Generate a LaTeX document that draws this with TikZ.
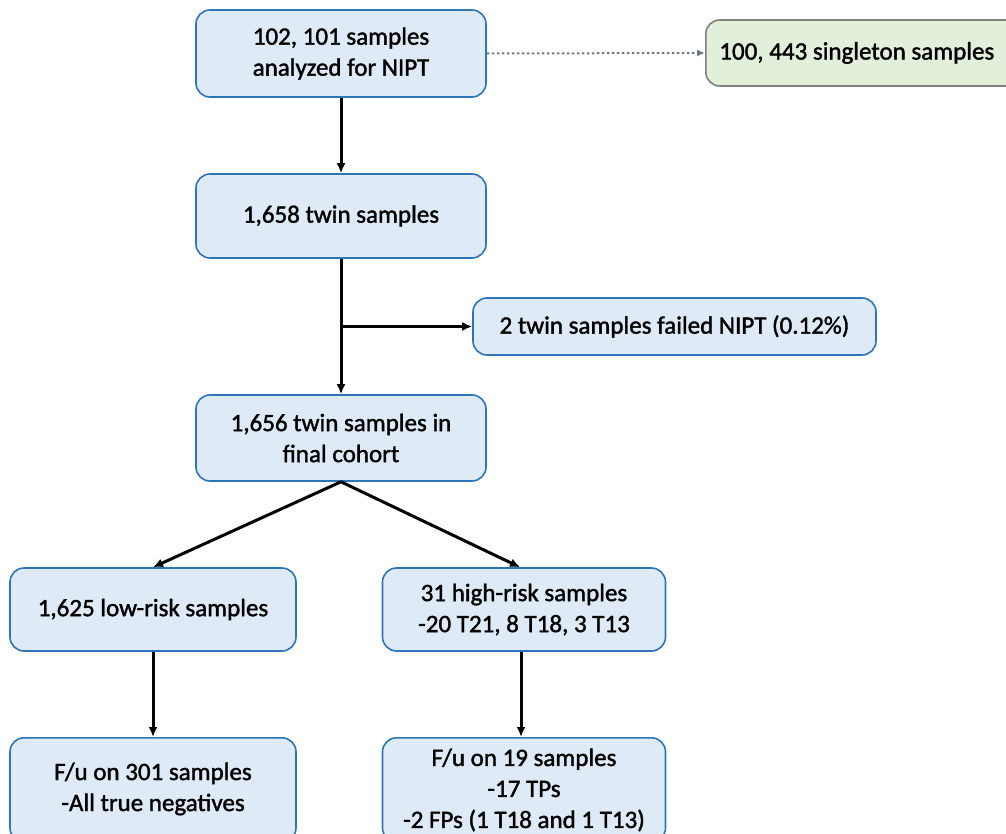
\documentclass[tikz,border=0pt]{standalone}
\usepackage{fontspec}
\setmainfont{Carlito}[FakeBold=1.5]
\usetikzlibrary{arrows.meta}
\definecolor{boxfill}{RGB}{222,235,247}
\definecolor{boxline}{RGB}{46,117,182}
\definecolor{greenfill}{RGB}{226,239,218}
\definecolor{greenline}{RGB}{128,128,128}
\definecolor{dotline}{RGB}{110,120,130}
\tikzset{
  txt/.style={align=center, font=\fontsize{25}{31}\selectfont},
  box/.style={draw=boxline, line width=1.6pt, fill=boxfill, rounded corners=14pt,
    inner sep=0pt, txt},
  gbox/.style={box, draw=greenline, fill=greenfill},
  arr/.style={-{Latex[length=10pt,width=9pt]}, line width=3pt, black},
  darr/.style={-{Latex[length=8pt,width=7pt]}, line width=2pt, dotline, dash pattern=on 2.5pt off 2.5pt},
}
\begin{document}
\begin{tikzpicture}[x=1pt,y=-1pt]
\useasboundingbox (0,0) rectangle (1006,834);
\clip (0,0) rectangle (1006,834);
\node[box, minimum width=290pt, minimum height=87pt] (a) at (341,53.5) {102, 101 samples\\analyzed for NIPT};
\node[gbox, minimum width=320pt, minimum height=66pt, anchor=west] (s) at (705,53) {\hspace*{-18pt}100, 443 singleton samples};
\node[box, minimum width=290pt, minimum height=84pt] (b) at (341,216) {1,658 twin samples};
\node[box, minimum width=403pt, minimum height=57pt] (f) at (674.5,326.5) {2 twin samples failed NIPT (0.12\%)};
\node[box, minimum width=290pt, minimum height=86pt] (c) at (341,438) {1,656 twin samples in\\final cohort};
\node[box, minimum width=286pt, minimum height=83pt] (l) at (153,609.5) {1,625 low-risk samples};
\node[box, minimum width=283pt, minimum height=83pt] (h) at (524,609.5) {31 high-risk samples\\-20 T21, 8 T18, 3 T13};
\node[box, minimum width=286pt, minimum height=104pt, anchor=north] (lf) at (153,737) {};
\node[txt] (lft) at (153,789) {F/u on 301 samples\\-All true negatives};
\node[box, minimum width=283pt, minimum height=104pt, anchor=north] (hf) at (524,737) {};
\node[txt] (hft) at (524,790) {F/u on 19 samples\\-17 TPs\\-2 FPs (1 T18 and 1 T13)};
\draw[darr] (a.east) -- (s.west);
\draw[arr] (a.south) -- (b.north);
\draw[arr] (b.south) -- (c.north);
\coordinate (br) at (341,326.5);
\draw[arr] (br) -- (f.west);
\draw[arr] (c.south) -- (l.north);
\draw[arr] (c.south) -- (h.north -| 520,0);
\draw[arr] (l.south) -- (lf.north);
\draw[arr] (h.south -| 521,0) -- (hf.north -| 521,0);
\end{tikzpicture}
\end{document}
